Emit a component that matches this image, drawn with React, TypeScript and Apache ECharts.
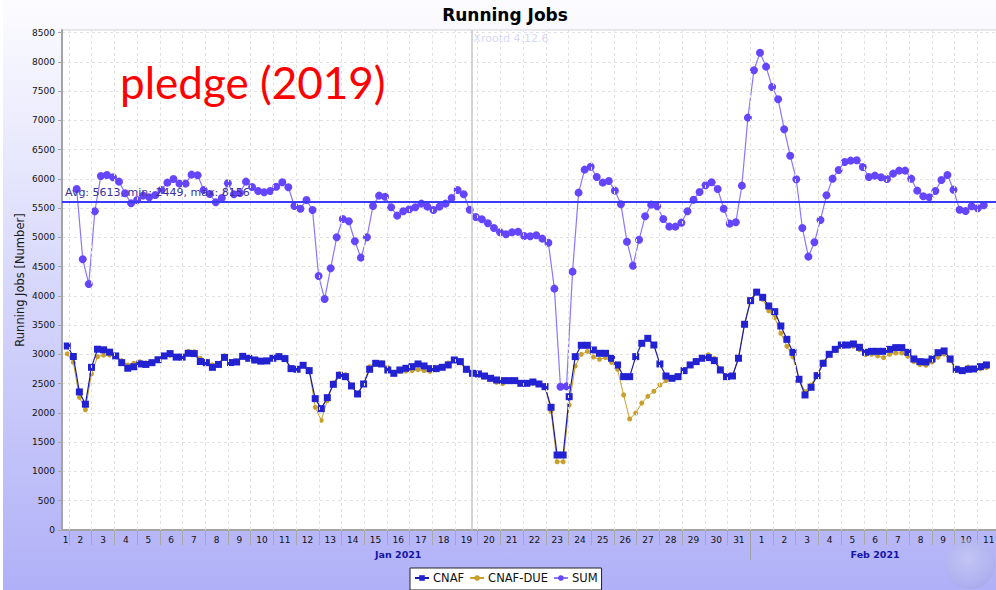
import React, { useEffect, useRef } from 'react';
import * as echarts from 'echarts';

// Time axis in days since 1 Jan 2021 00:00
const X_MIN = 0.692;
const X_MAX = 42;
const CNAF_T0 = 0.925;
const SUM_T0 = 1.339;
const STEP = 0.2663;

const cnaf = [
  3145, 2965, 2360, 2150, 2780, 3090, 3080, 3040, 2975, 2860,
  2765, 2790, 2838, 2830, 2860, 2910, 2975, 3015, 2955, 2955,
  3020, 3015, 2880, 2860, 2780, 2830, 2950, 2862, 2872, 2968,
  2935, 2906, 2886, 2890, 2935, 2963, 2930, 2758, 2747, 2815,
  2724, 2245, 2074, 2262, 2490, 2644, 2621, 2462, 2325, 2496,
  2747, 2849, 2838, 2735, 2678, 2735, 2764, 2792, 2838, 2804,
  2758, 2758, 2781, 2821, 2906, 2878, 2747, 2678, 2667, 2632,
  2593, 2564, 2553, 2553, 2553, 2507, 2507, 2530, 2496, 2450,
  2097, 1282, 1282, 2279, 2963, 3157, 3157, 3077, 3020, 3020,
  2935, 2821, 2621, 2621, 2963, 3191, 3276, 3162, 2838, 2632,
  2593, 2621, 2724, 2821, 2878, 2935, 2946, 2895, 2735, 2621,
  2632, 2935, 3516, 3920, 4065, 3977, 3829, 3732, 3487, 3259,
  3037, 2576, 2308, 2439, 2638, 2849, 3003, 3088, 3162, 3162,
  3180, 3123, 3037, 3054, 3054, 3054, 3088, 3117, 3117, 3037,
  2923, 2878, 2872, 2923, 3031, 3060, 2923, 2747, 2724, 2747,
  2752, 2792, 2821,
];

const cnafDue = [
  3010, 2864, 2267, 2055, 2668, 2961, 2988, 2989, 2979, 2896,
  2820, 2851, 2877, 2857, 2867, 2902, 2962, 2985, 2965, 2965,
  3054, 3048, 2932, 2884, 2822, 2845, 2976, 2876, 2889, 2986,
  2928, 2889, 2887, 2905, 2933, 2980, 2928, 2780, 2745, 2826,
  2746, 2097, 1875, 2212, 2513, 2672, 2656, 2473, 2330, 2507,
  2791, 2866, 2859, 2781, 2695, 2713, 2718, 2724, 2740, 2723,
  2712, 2740, 2780, 2854, 2906, 2860, 2728, 2672, 2644, 2611,
  2569, 2525, 2502, 2536, 2546, 2519, 2513, 2507, 2484, 2461,
  2028, 1167, 1167, 2137, 2803, 3002, 3053, 2957, 2917, 2946,
  2865, 2746, 2307, 1897, 1999, 2171, 2285, 2371, 2478, 2553,
  2592, 2632, 2724, 2825, 2900, 2957, 2997, 2934, 2757, 2615,
  2628, 2951, 3532, 3938, 4084, 3943, 3744, 3630, 3363, 3139,
  2958, 2586, 2364, 2479, 2661, 2872, 3002, 3066, 3129, 3151,
  3140, 3082, 2997, 3003, 2975, 2946, 3003, 3025, 3025, 2968,
  2877, 2826, 2815, 2872, 2952, 3008, 2894, 2728, 2729, 2786,
  2747, 2758, 2775,
];

const sum = [
  5829, 4627, 4205, 5448, 6051, 6068, 6029, 5954, 5756, 5585,
  5641, 5715, 5687, 5727, 5812, 5937, 6000, 5920, 5920, 6074,
  6063, 5812, 5744, 5602, 5675, 5926, 5738, 5761, 5954, 5863,
  5795, 5773, 5795, 5868, 5943, 5858, 5538, 5492, 5641, 5470,
  4342, 3949, 4474, 5003, 5316, 5277, 4935, 4655, 5003, 5538,
  5715, 5697, 5516, 5373, 5448, 5482, 5516, 5578, 5527, 5470,
  5527, 5578, 5675, 5812, 5738, 5475, 5350, 5311, 5243, 5162,
  5089, 5055, 5089, 5099, 5026, 5020, 5037, 4980, 4911, 4125,
  2449, 2455, 4416, 5766, 6159, 6210, 6034, 5937, 5966, 5800,
  5567, 4928, 4518, 4962, 5362, 5561, 5533, 5316, 5185, 5185,
  5253, 5448, 5646, 5778, 5892, 5943, 5829, 5492, 5236, 5260,
  5886, 7048, 7858, 8156, 7920, 7573, 7362, 6850, 6398, 5995,
  5162, 4672, 4918, 5299, 5721, 6005, 6154, 6291, 6313, 6320,
  6205, 6034, 6057, 6029, 6000, 6091, 6142, 6142, 6005, 5800,
  5704, 5687, 5795, 5983, 6068, 5817, 5475, 5453, 5533, 5499,
  5550,
];

const yTicks = [0, 500, 1000, 1500, 2000, 2500, 3000, 3500, 4000, 4500, 5000, 5500, 6000, 6500, 7000, 7500, 8000, 8500];
const Y_MAX = 8546;

const dayLabels = [
  '1', '2', '3', '4', '5', '6', '7', '8', '9', '10', '11', '12', '13', '14', '15', '16',
  '17', '18', '19', '20', '21', '22', '23', '24', '25', '26', '27', '28', '29', '30', '31',
  '1', '2', '3', '4', '5', '6', '7', '8', '9', '10', '11',
];
const monthLabels = ['Jan 2021', 'Feb 2021'];
const monthStarts = [0, 31];
const monthEnds = [31, 42];

const avgValue = 5613;
const avgText = 'Avg: 5613, min: 2449, max: 8156';
const xrootdTime = 18.72;
const xrootdText = 'Xrootd 4.12.6';
const pledgeText = 'pledge (2019)';
const titleText = 'Running Jobs';
const yName = 'Running Jobs [Number]';

const FONT = 'DejaVu Sans';

export default function App() {
  const ref = useRef<HTMLDivElement>(null);

  useEffect(() => {
    const el = ref.current;
    if (!el) return;
    const chart = echarts.init(el, null, { renderer: 'svg' });

    const cnafData = cnaf.map((v, i) => [CNAF_T0 + i * STEP, v]);
    const dueData = cnafDue.map((v, i) => [CNAF_T0 + i * STEP, v]);
    const sumData = sum.map((v, i) => [SUM_T0 + i * STEP, v]);

    const boundaries: number[] = [];
    for (let d = 1; d < X_MAX; d++) boundaries.push(d);
    const labelPos = dayLabels.map((_, i) => {
      const lo = Math.max(i, X_MIN);
      const hi = Math.min(i + 1, X_MAX);
      return (lo + hi) / 2;
    });
    const monthPos = monthLabels.map((_, i) => (monthStarts[i] + monthEnds[i]) / 2);

    const option: any = {
      animation: false,
      graphic: [
        {
          type: 'rect',
          z: -100,
          silent: true,
          shape: { x: 3, y: 0, width: 1001, height: 590 },
          style: {
            fill: new echarts.graphic.LinearGradient(0, 0, 0, 1, [
              { offset: 0, color: '#fcfcff' },
              { offset: 1, color: '#b0b0f8' },
            ]),
          },
        },
        {
          type: 'circle',
          silent: true,
          z: 100,
          shape: { cx: 970, cy: 564, r: 25 },
          style: {
            fill: new echarts.graphic.RadialGradient(0.45, 0.4, 0.7, [
              { offset: 0, color: 'rgba(205,210,240,0.55)' },
              { offset: 0.7, color: 'rgba(175,180,232,0.5)' },
              { offset: 1, color: 'rgba(150,152,220,0.45)' },
            ]),
          },
        },
        {
          type: 'text',
          z: 100,
          x: 505,
          y: 15,
          style: {
            text: titleText,
            font: `bold 17px "${FONT}"`,
            fill: '#000',
            align: 'center',
            verticalAlign: 'middle',
          },
        },
        {
          type: 'text',
          z: 100,
          x: 120,
          y: 82,
          style: {
            text: pledgeText,
            font: '44px Lato',
            fill: '#ff0000',
            align: 'left',
            verticalAlign: 'middle',
          },
        },
      ],
      grid: {
        left: 62,
        right: 4,
        top: 30,
        bottom: 60,
        show: true,
        backgroundColor: '#ffffff',
        borderColor: '#d4d4d4',
        borderWidth: 1,
      },
      legend: {
        left: 410,
        top: 568,
        orient: 'horizontal',
        backgroundColor: '#ffffff',
        borderColor: '#222',
        borderWidth: 1,
        borderRadius: 0,
        padding: [4, 4, 6, 4],
        itemGap: 5,
        itemWidth: 14,
        itemHeight: 7,
        data: ['CNAF', 'CNAF-DUE', 'SUM'],
        textStyle: { fontFamily: FONT, fontSize: 11.5, color: '#111', padding: [0, 0, 0, -1] },
      },
      xAxis: [
        {
          type: 'value',
          min: X_MIN,
          max: X_MAX,
          axisLine: { show: true, onZero: false, lineStyle: { color: '#a4a4a4', width: 2 } },
          axisTick: { show: true, customValues: boundaries, length: 15, lineStyle: { color: '#a8a8a8', width: 1 } },
          axisLabel: {
            show: true,
            customValues: labelPos,
            margin: 5,
            fontFamily: FONT,
            fontSize: 9,
            color: '#111',
            formatter: (v: number) => {
              const idx = Math.floor(v);
              return dayLabels[idx] ?? '';
            },
          },
          splitLine: { show: false },
        },
        {
          type: 'value',
          min: X_MIN,
          max: X_MAX,
          position: 'bottom',
          axisLine: { show: false },
          axisTick: { show: true, customValues: [monthStarts[1]], length: 30, lineStyle: { color: '#a0a0a0', width: 1 } },
          axisLabel: {
            show: true,
            customValues: monthPos,
            margin: 19,
            fontFamily: FONT,
            fontSize: 9.5,
            fontWeight: 'bold',
            color: '#1414a8',
            formatter: (v: number) => {
              let best = 0;
              monthPos.forEach((p, i) => {
                if (Math.abs(p - v) < Math.abs(monthPos[best] - v)) best = i;
              });
              return monthLabels[best];
            },
          },
          splitLine: { show: false },
        },
      ],
      yAxis: {
        type: 'value',
        min: 0,
        max: Y_MAX,
        interval: 500,
        name: yName,
        nameLocation: 'middle',
        nameRotate: 90,
        nameGap: 36,
        nameMoveOverlap: false,
        nameTextStyle: { fontFamily: FONT, fontSize: 11.5, color: '#1a1a1a' },
        axisLine: { show: true, lineStyle: { color: '#a4a4a4', width: 2 } },
        axisTick: { show: true, customValues: yTicks, length: 4, lineStyle: { color: '#a4a4a4' } },
        axisLabel: {
          customValues: yTicks,
          margin: 7,
          fontFamily: FONT,
          fontSize: 9,
          color: '#111',
          formatter: (v: number) => String(Math.round(v)),
        },
        splitLine: { show: true, lineStyle: { color: '#e2e2e2', type: [3, 3], width: 1 } },
      },
      series: [
        {
          name: 'grid-helper',
          type: 'line',
          data: [],
          z: 1,
          silent: true,
          markLine: {
            silent: true,
            symbol: ['none', 'none'],
            label: { show: false },
            lineStyle: { color: '#e2e2e2', type: [3, 3], width: 1 },
            data: boundaries.map((b) => ({ xAxis: b })),
          },
        },
        {
          name: 'xrootd',
          type: 'line',
          data: [],
          z: 1,
          silent: true,
          markLine: {
            silent: true,
            symbol: ['none', 'none'],
            label: { show: false },
            lineStyle: { color: '#c6c6c6', type: 'solid', width: 1.5 },
            data: [{ xAxis: xrootdTime }],
          },
          markPoint: {
            silent: true,
            symbol: 'rect',
            symbolSize: 0,
            data: [
              {
                coord: [xrootdTime, Y_MAX],
                label: {
                  show: true,
                  position: [2, 3],
                  formatter: xrootdText,
                  color: '#d8d8f6',
                  fontFamily: FONT,
                  fontSize: 11,
                },
              },
            ],
          },
        },
        {
          name: 'CNAF-DUE',
          type: 'line',
          data: dueData,
          z: 2,
          symbol: 'circle',
          symbolSize: 5,
          itemStyle: { color: '#c8a02a' },
          lineStyle: { color: '#c8a02a', width: 1 },
          emphasis: { disabled: true },
        },
        {
          name: 'CNAF',
          type: 'line',
          data: cnafData,
          z: 3,
          symbol: 'rect',
          symbolSize: 7,
          itemStyle: { color: '#2222d2' },
          lineStyle: { color: '#1a1aa8', width: 1.2 },
          emphasis: { disabled: true },
        },
        {
          name: 'SUM',
          type: 'line',
          data: sumData,
          z: 4,
          symbol: 'circle',
          symbolSize: 8,
          itemStyle: { color: '#6545ff' },
          lineStyle: { color: '#8878ff', width: 1.2 },
          emphasis: { disabled: true },
          markLine: {
            silent: true,
            symbol: ['none', 'none'],
            lineStyle: { color: '#3a3aff', type: 'solid', width: 2 },
            label: {
              show: true,
              position: 'insideStartTop',
              formatter: avgText,
              color: '#3b2f9c',
              fontFamily: FONT,
              fontSize: 11,
              distance: [3, 4],
            },
            data: [{ yAxis: avgValue }],
          },
        },
      ],
    };

    chart.setOption(option);
    return () => chart.dispose();
  }, []);

  return (
    <div
      style={{
        position: 'fixed',
        left: 0,
        top: 0,
        width: 996,
        height: 590,
        overflow: 'hidden',
        background: '#ffffff',
      }}
    >
      <div ref={ref} style={{ position: 'absolute', left: 0, top: 0, width: 1004, height: 590 }} />
    </div>
  );
}
